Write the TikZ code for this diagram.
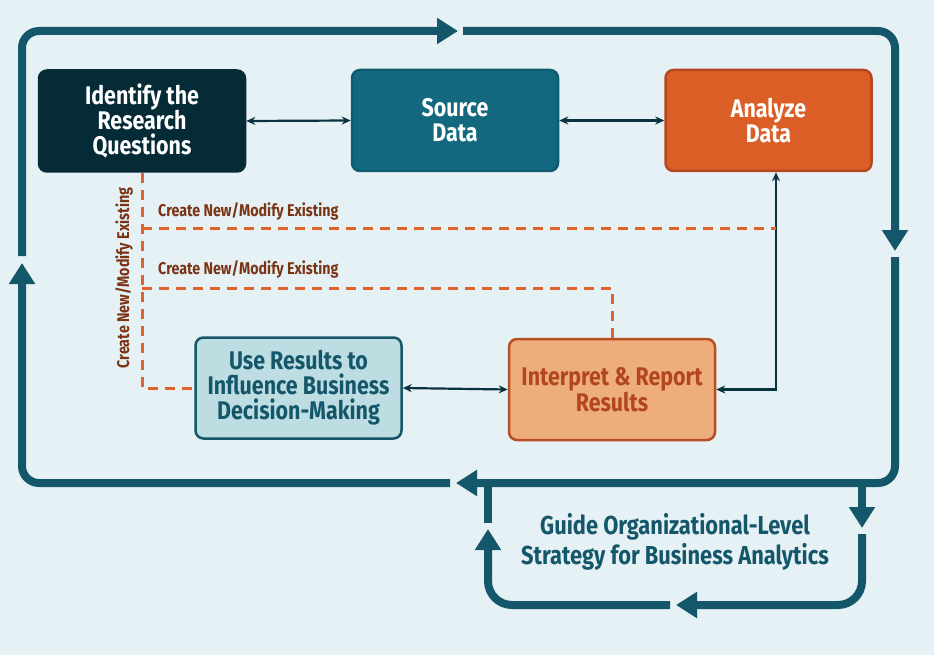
\documentclass[tikz,border=0pt]{standalone}
\usepackage{fontspec}
\newfontfamily\cond{Fira Sans}[FakeStretch=0.84]
\usetikzlibrary{arrows.meta}
\definecolor{bg}{HTML}{E5F1F4}
\definecolor{loopc}{HTML}{14576A}
\definecolor{idfill}{HTML}{052B36}
\definecolor{srcfill}{HTML}{12687E}
\definecolor{srcline}{HTML}{0F5C70}
\definecolor{anafill}{HTML}{DC5E27}
\definecolor{analine}{HTML}{B54820}
\definecolor{usefill}{HTML}{BDDDE3}
\definecolor{intfill}{HTML}{EEAD7C}
\definecolor{intline}{HTML}{B85024}
\definecolor{inttext}{HTML}{B2471F}
\definecolor{dashc}{HTML}{E2622B}
\definecolor{labc}{HTML}{7A3314}
\definecolor{thinc}{HTML}{0A3340}
\tikzset{
  box/.style={rectangle, rounded corners=8pt, line width=2.5pt, minimum width=206pt,
    minimum height=101pt, align=center, inner sep=0pt,
    font=\cond\bfseries\fontsize{25.5}{25}\selectfont},
  bigloop/.style={draw=loopc, line width=8pt, rounded corners=17pt,
    -{Triangle[length=21pt,width=25pt]}},
  smallloop/.style={draw=loopc, line width=8pt, rounded corners=24pt,
    -{Triangle[length=21pt,width=25pt]}},
  plainloop/.style={draw=loopc, line width=8pt},
  thinarrow/.style={draw=thinc, line width=2.2pt, {Stealth[length=9pt,width=8pt]}-{Stealth[length=9pt,width=8pt]}},
  dashline/.style={draw=dashc, line width=3pt, dash pattern=on 10pt off 7pt},
  lab/.style={text=labc, font=\cond\bfseries\fontsize{17}{19}\selectfont, inner sep=0pt}
}
\begin{document}
\begin{tikzpicture}[x=1pt,y=-1pt]
\useasboundingbox (0,0) rectangle (934,655);
\fill[bg] (0,0) rectangle (934,655);

% outer loop
\coordinate (a1) at (22,256);
\coordinate (a2) at (458,31);
\coordinate (b1) at (463,31);
\coordinate (b2) at (895,251);
\coordinate (c1) at (895,257);
\coordinate (c2) at (456,483);
\coordinate (e1) at (450,483);
\coordinate (e2) at (22,263);
\draw[bigloop] (a1) |- (a2);
\draw[bigloop] (b1) -| (b2);
\draw[bigloop] (c1) |- (c2);
\draw[bigloop] (e1) -| (e2);

% small loop
\coordinate (s0) at (862,479);
\coordinate (s1) at (862,528);
\coordinate (s2) at (862,534);
\coordinate (s3) at (676,605);
\coordinate (s4) at (670,605);
\coordinate (s5) at (488,529);
\coordinate (s6) at (488,523);
\coordinate (s7) at (488,479);
\draw[bigloop] (s0) -- (s1);
\draw[smallloop] (s2) |- (s3);
\draw[smallloop] (s4) -| (s5);
\draw[plainloop] (s6) -- (s7);

% boxes
\node[box, fill=idfill, draw=idfill, text=white] (id) at (142,121) {Identify the\\Research\\Questions};
\node[box, fill=srcfill, draw=srcline, text=white] (src) at (455,120.5) {Source\\Data};
\node[box, fill=anafill, draw=analine, text=white] (ana) at (768.5,120.5) {Analyze\\Data};
\node[box, fill=usefill, draw=loopc, text=loopc] (use) at (298.5,388) {Use Results to\\Influence Business\\Decision-Making};
\node[box, fill=intfill, draw=intline, text=inttext] (int) at (612,389.5) {Interpret \& Report\\Results};

% thin arrows
\coordinate (v1) at (776,388);
\draw[thinarrow] (id.east) -- (src.west);
\draw[thinarrow] (src.east) -- (ana.west);
\draw[thinarrow] (use.east) -- (int.west);
\draw[thinarrow] (int.east) -| (ana.south -| v1);

% dashed
\coordinate (d1) at (142,228);
\coordinate (d2) at (776,228);
\coordinate (d3) at (142,288);
\draw[dashline] (id.south) |- (use.west);
\draw[dashline] (d1) -- (d2);
\draw[dashline] (d3) -| (int.north);

% labels
\node[lab, anchor=west] (l1) at (158,211) {Create New/Modify Existing};
\node[lab, anchor=west] (l2) at (158,269.5) {Create New/Modify Existing};
\node[lab, rotate=90] (l3) at (124,278) {Create New/Modify Existing};

\node[text=loopc, align=center, font=\cond\bfseries\fontsize{26}{30}\selectfont] (guide) at (675,542) {Guide Organizational-Level\\Strategy for Business Analytics};
\end{tikzpicture}
\end{document}
